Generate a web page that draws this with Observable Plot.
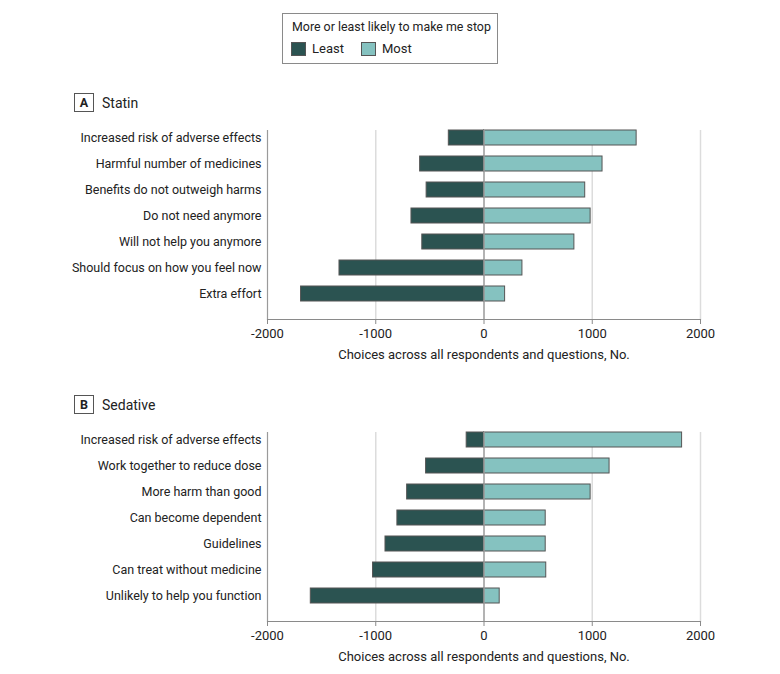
<!DOCTYPE html>
<html>
<head>
<meta charset="utf-8">
<script src="https://cdn.jsdelivr.net/npm/d3@7"></script>
<script src="https://cdn.jsdelivr.net/npm/@observablehq/plot@0.6"></script>
<style>
  html, body { margin: 0; padding: 0; background: #fff; }
  body { width: 780px; height: 674px; position: relative; font-family: Roboto, "Noto Sans", sans-serif; color: #222; }
  .abs { position: absolute; }
  .legend { left: 282px; top: 13px; width: 216px; height: 51px; border: 1px solid #8a8a8a; box-sizing: border-box; }
  .legend .title { position: absolute; left: 9px; top: 5px; font-size: 12.4px; white-space: nowrap; }
  .legend .item { position: absolute; top: 27px; font-size: 13px; display: flex; align-items: center; white-space: nowrap; }
  .legend .sw { width: 15px; height: 14px; border: 1px solid #555; box-sizing: border-box; margin-right: 6px; display: inline-block; }
  .hdr { display: flex; align-items: center; font-size: 14px; }
  .hdr .box { width: 20px; height: 19px; border: 1px solid #555; box-sizing: border-box; display: flex; align-items: center; justify-content: center; font-weight: bold; font-size: 12.5px; margin-right: 8px; }
</style>
</head>
<body>
<div class="abs legend">
  <div class="title">More or least likely to make me stop</div>
  <div class="item" style="left:8px"><span class="sw" id="swLeast"></span>Least</div>
  <div class="item" style="left:78px"><span class="sw" id="swMost"></span>Most</div>
</div>
<div class="abs hdr" style="left:74px; top:93px;"><span class="box">A</span>Statin</div>
<div class="abs" id="panelA" style="left:0; top:120px;"></div>
<div class="abs hdr" style="left:74px; top:395px;"><span class="box">B</span>Sedative</div>
<div class="abs" id="panelB" style="left:0; top:421.7px;"></div>
<script>
const groups = ["Least", "Most"];
const groupColors = ["#2b5351", "#85c2c0"];
const xTicks = [-2000, -1000, 0, 1000, 2000];
const axisTitle = "Choices across all respondents and questions, No.";

const statinLabels = ["Increased risk of adverse effects", "Harmful number of medicines", "Benefits do not outweigh harms", "Do not need anymore", "Will not help you anymore", "Should focus on how you feel now", "Extra effort"];
const statinLeast = [-325, -590, -530, -670, -570, -1335, -1690];
const statinMost = [1410, 1095, 935, 985, 835, 355, 195];

const sedativeLabels = ["Increased risk of adverse effects", "Work together to reduce dose", "More harm than good", "Can become dependent", "Guidelines", "Can treat without medicine", "Unlikely to help you function"];
const sedativeLeast = [-160, -535, -710, -800, -910, -1025, -1600];
const sedativeMost = [1830, 1160, 985, 570, 570, 575, 145];

document.getElementById("swLeast").style.background = groupColors[0];
document.getElementById("swMost").style.background = groupColors[1];

function panel(labels, least, most) {
  const rows = labels.flatMap((l, i) => [
    {label: l, group: groups[0], value: least[i]},
    {label: l, group: groups[1], value: most[i]}
  ]);
  return Plot.plot({
    width: 780,
    height: 244,
    marginTop: 10,
    marginBottom: 45,
    marginLeft: 267,
    marginRight: 80,
    style: {fontFamily: "Roboto, 'Noto Sans', sans-serif", fontSize: "12.5px", color: "#222", background: "transparent"},
    x: {domain: [-2000, 2000]},
    y: {domain: labels, range: [10, 183.5], paddingInner: 0.43, paddingOuter: 0, align: 0},
    color: {domain: groups, range: groupColors},
    marks: [
      Plot.ruleX([-1000, 1000, 2000], {stroke: "#dcdcdc", strokeWidth: 1.5}),
      Plot.ruleX([-2000], {stroke: "#9a9a9a", strokeWidth: 1.2}),
      Plot.barX(rows, {x1: 0, x2: "value", y: "label", fill: "group", stroke: "#555", strokeWidth: 1}),
      Plot.ruleX([0], {stroke: "#9a9a9a", strokeWidth: 1.5}),
      Plot.frame({anchor: "bottom", stroke: "#8a8a8a", strokeWidth: 1.2}),
      Plot.axisX({ticks: xTicks, tickSize: 5, tickPadding: 4, tickFormat: d => String(d), stroke: "#8a8a8a", fontSize: 13, label: axisTitle, labelAnchor: "center", labelArrow: "none", labelOffset: 39}),
      Plot.axisY({tickSize: 0, tickPadding: 6, label: null, fontSize: 12.5})
    ]
  });
}

document.getElementById("panelA").appendChild(panel(statinLabels, statinLeast, statinMost));
document.getElementById("panelB").appendChild(panel(sedativeLabels, sedativeLeast, sedativeMost));
</script>
</body>
</html>
